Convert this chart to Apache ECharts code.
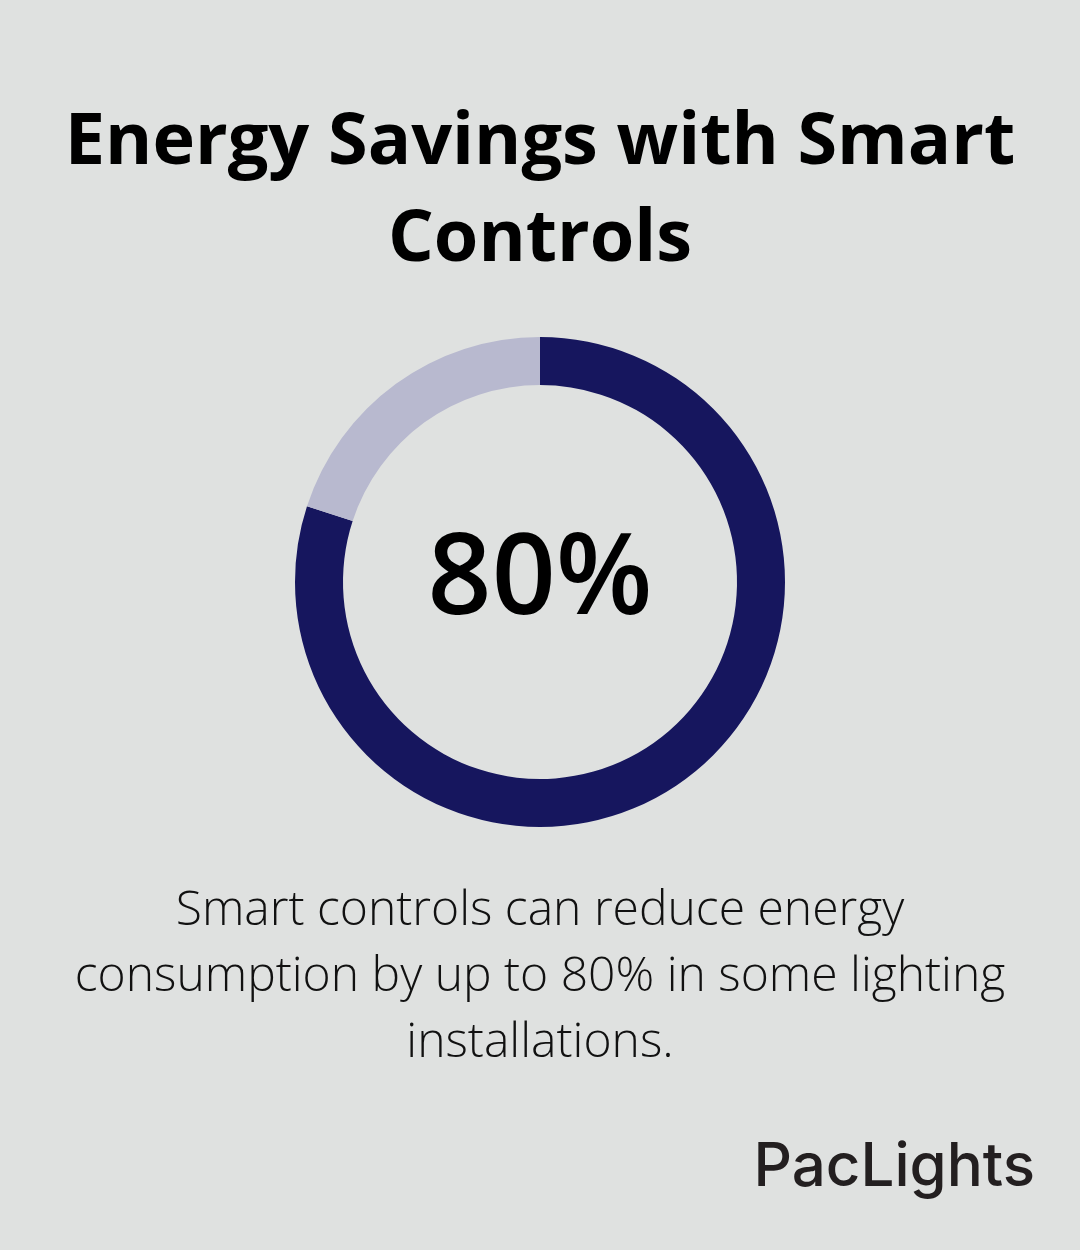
<!DOCTYPE html>
<html>
<head>
<meta charset="utf-8">
<style>
  html, body { margin: 0; padding: 0; background: #dfe1e0; }
  #chart { width: 1080px; height: 1250px; }
</style>
<script src="https://cdn.jsdelivr.net/npm/echarts@6/dist/echarts.min.js"></script>
</head>
<body>
<div id="chart"></div>
<script>
// data
var titleText = 'Energy Savings with Smart\nControls';
var sliceNames = ['Saved', 'Remaining'];
var sliceValues = [80, 20];
var centerLabel = '80%';
var captionText = 'Smart controls can reduce energy\nconsumption by up to 80% in some lighting\ninstallations.';
var brandText = 'PacLights';

var chart = echarts.init(document.getElementById('chart'));

var option = {
    backgroundColor: '#dfe1e0',
    animation: false,
    series: [{
        type: 'pie',
        center: [540, 582],
        radius: [197, 245],
        startAngle: 90,
        clockwise: true,
        silent: true,
        label: { show: false },
        labelLine: { show: false },
        itemStyle: { borderWidth: 0 },
        data: [
            { name: sliceNames[0], value: sliceValues[0], itemStyle: { color: '#16165e' } },
            { name: sliceNames[1], value: sliceValues[1], itemStyle: { color: '#b8b9cf' } }
        ]
    }],
    graphic: [
        // title, two lines centred
        {
            type: 'text',
            x: 540,
            y: 95,
            style: {
                text: titleText,
                fontFamily: 'Open Sans',
                fontWeight: 'bold',
                fontSize: 72,
                lineHeight: 97,
                fill: '#000000',
                align: 'center',
                verticalAlign: 'top'
            }
        },
        // number in the middle of the ring
        {
            type: 'text',
            x: 540,
            y: 582,
            style: {
                text: centerLabel,
                fontFamily: 'Open Sans',
                fontWeight: 600,
                fontSize: 112,
                fill: '#000000',
                align: 'center',
                verticalAlign: 'middle'
            }
        },
        // caption below
        {
            type: 'text',
            x: 540,
            y: 878,
            style: {
                text: captionText,
                fontFamily: 'Open Sans',
                fontWeight: 300,
                fontSize: 48,
                lineHeight: 66,
                fill: '#111111',
                align: 'center',
                verticalAlign: 'top'
            }
        },
        // logo
        {
            type: 'text',
            right: 45,
            top: 1138,
            style: {
                text: brandText,
                fontFamily: 'Inter',
                fontWeight: 500,
                fontSize: 60,
                fill: '#231f20'
            }
        }
    ]
};

chart.setOption(option);
</script>
</body>
</html>
